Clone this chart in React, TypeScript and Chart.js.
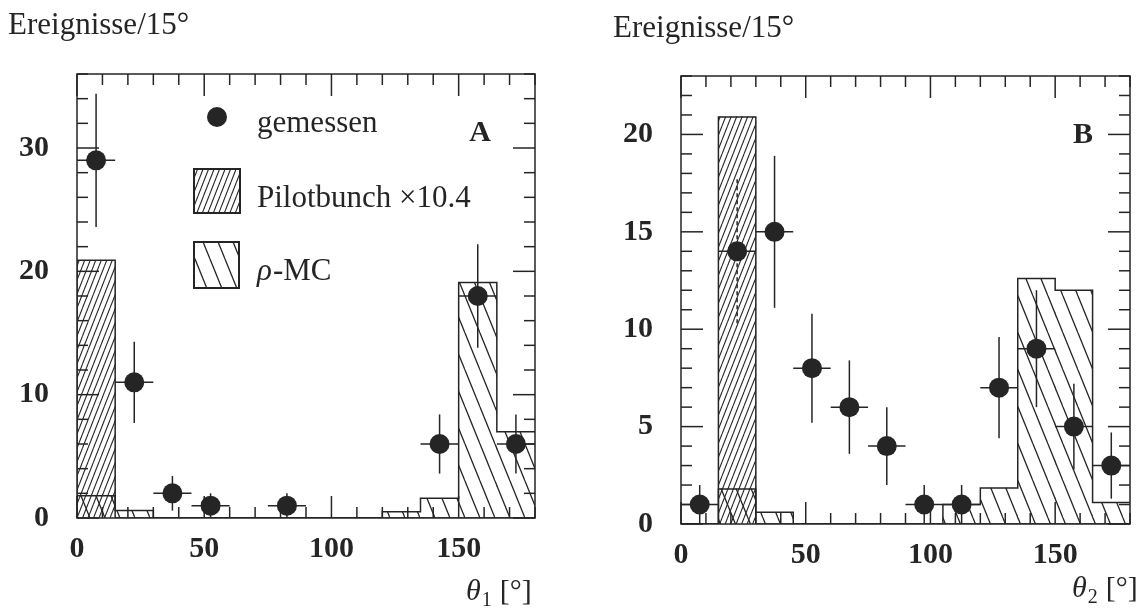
import React, { useEffect, useRef } from "react";
import { Chart, registerables } from "chart.js";

Chart.register(...registerables);

// ---------- data ----------
const binCenters = [7.5, 22.5, 37.5, 52.5, 67.5, 82.5, 97.5, 112.5, 127.5, 142.5, 157.5, 172.5];
const binHalfWidth = 7.5;
const xMaxDeg = 180;

// Panel A (theta_1)
const pilotA = [20.9, 0, 0, 0, 0, 0, 0, 0, 0, 0, 0, 0];
const rhoA = [1.8, 0.6, 0, 0, 0, 0, 0, 0, 0.5, 1.6, 19.1, 7.0];
const ptsAx = [7.5, 22.5, 37.5, 52.5, 82.5, 142.5, 157.5, 172.5];
const ptsAy = [29, 11, 2, 1, 1, 6, 18, 6];
const errAy = [5.4, 3.3, 1.4, 1, 1, 2.4, 4.2, 2.4];

// Panel B (theta_2)
const pilotB = [0, 20.9, 0, 0, 0, 0, 0, 0, 0, 0, 0, 0];
const rhoB = [0, 1.8, 0.6, 0, 0, 0, 0, 1.0, 1.85, 12.6, 12.0, 1.1];
const ptsBx = [7.5, 22.5, 37.5, 52.5, 67.5, 82.5, 97.5, 112.5, 127.5, 142.5, 157.5, 172.5];
const ptsBy = [1, 14, 15, 8, 6, 4, 1, 1, 7, 9, 5, 3];
const errBy = [1, 3.7, 3.9, 2.8, 2.4, 2.0, 1, 1, 2.6, 3.0, 2.2, 1.7];
const dashedErrBx = [22.5];

const xTickLabels = [0, 50, 100, 150];
const yTickLabelsA = [0, 10, 20, 30];
const yTickLabelsB = [0, 5, 10, 15, 20];

const INK = "#252525";
const SERIF = "'Liberation Serif', 'Times New Roman', serif";

function makeHatch(w: number, h: number, n: number, dir: 1 | -1, lw: number) {
  const c = document.createElement("canvas");
  c.width = w;
  c.height = h;
  const g = c.getContext("2d")!;
  g.strokeStyle = INK;
  g.lineWidth = lw;
  const dx = w / n;
  for (let k = -1; k <= n; k++) {
    const x0 = k * dx;
    g.beginPath();
    if (dir > 0) {
      g.moveTo(x0, h);
      g.lineTo(x0 + dx, 0);
    } else {
      g.moveTo(x0, 0);
      g.lineTo(x0 + dx, h);
    }
    g.stroke();
  }
  return g.createPattern(c, "repeat")!;
}

function stepOutline(vals: number[]) {
  const pts = [{ x: 0, y: 0 }];
  binCenters.forEach((c, i) => pts.push({ x: c + binHalfWidth, y: vals[i] }));
  return pts;
}

type PanelCfg = {
  pilot: number[];
  rho: number[];
  px: number[];
  py: number[];
  pe: number[];
  dashed: number[];
  ymax: number;
  yMinor: number;
  yMajor: number;
  yLabels: number[];
  padTop: number;
  padRight: number;
  yAxisW: number;
  xAxisH: number;
  title: { x: number; y: number };
  letter: string;
  letterPos: { x: number; y: number };
  axisSub: string;
  axisPos: { x: number; y: number };
  legend: boolean;
};

function makePanel(canvas: HTMLCanvasElement, cfg: PanelCfg) {
  const pilotPat = makeHatch(11, 14, 2, 1, 1.1);
  const rhoPat = makeHatch(15, 37, 1, -1, 1.3);

  const panelPlugin = {
    id: "panelDecor",
    beforeDatasetDraw(chart: any, args: any) {
      if (args.index !== 0) return;
      const { ctx, scales } = chart;
      const x = scales.x, y = scales.y;
      ctx.save();
      ctx.strokeStyle = INK;
      ctx.lineWidth = 1.5;
      cfg.px.forEach((xv, i) => {
        const yv = cfg.py[i];
        const e = cfg.pe[i];
        const cx = x.getPixelForValue(xv);
        const cy = y.getPixelForValue(yv);
        ctx.setLineDash(cfg.dashed.includes(xv) ? [4, 3] : []);
        ctx.beginPath();
        ctx.moveTo(cx, y.getPixelForValue(Math.min(yv + e, cfg.ymax)));
        ctx.lineTo(cx, y.getPixelForValue(Math.max(yv - e, 0)));
        ctx.stroke();
        ctx.setLineDash([]);
        ctx.beginPath();
        ctx.moveTo(x.getPixelForValue(xv - binHalfWidth), cy);
        ctx.lineTo(x.getPixelForValue(xv + binHalfWidth), cy);
        ctx.stroke();
      });
      ctx.restore();
    },
    afterDatasetsDraw(chart: any) {
      const { ctx, chartArea, scales } = chart;
      const { left, right, top, bottom } = chartArea;
      const x = scales.x, y = scales.y;
      ctx.save();
      ctx.strokeStyle = INK;
      ctx.lineWidth = 1.5;
      ctx.strokeRect(left, top, right - left, bottom - top);
      const line = (a: number, b: number, c: number, d: number) => {
        ctx.beginPath();
        ctx.moveTo(a, b);
        ctx.lineTo(c, d);
        ctx.stroke();
      };
      for (let v = 0; v <= xMaxDeg; v += 10) {
        const p = x.getPixelForValue(v);
        const L = v % 50 === 0 ? 22 : 11;
        line(p, bottom, p, bottom - L);
        line(p, top, p, top + L);
      }
      for (let v = 0; v <= cfg.ymax; v += cfg.yMinor) {
        const p = y.getPixelForValue(v);
        const L = v % cfg.yMajor === 0 ? 22 : 11;
        line(left, p, left + L, p);
        line(right, p, right - L, p);
      }
      ctx.restore();
    },
    afterDraw(chart: any) {
      const { ctx } = chart;
      ctx.save();
      ctx.fillStyle = INK;
      ctx.textBaseline = "alphabetic";
      ctx.textAlign = "left";
      ctx.font = `31px ${SERIF}`;
      ctx.fillText("Ereignisse/15°", cfg.title.x, cfg.title.y);
      ctx.font = `bold 30px ${SERIF}`;
      ctx.textAlign = "center";
      ctx.textBaseline = "middle";
      ctx.fillText(cfg.letter, cfg.letterPos.x, cfg.letterPos.y);
      ctx.textAlign = "left";
      ctx.textBaseline = "alphabetic";
      let ax = cfg.axisPos.x;
      ctx.font = `italic 30px ${SERIF}`;
      ctx.fillText("θ", ax, cfg.axisPos.y);
      ax += ctx.measureText("θ").width + 1;
      ctx.font = `20px ${SERIF}`;
      ctx.fillText(cfg.axisSub, ax, cfg.axisPos.y + 6);
      ax += ctx.measureText(cfg.axisSub).width + 8;
      ctx.font = `30px ${SERIF}`;
      ctx.fillText("[°]", ax, cfg.axisPos.y);

      if (cfg.legend) {
        ctx.beginPath();
        ctx.arc(217, 117, 10, 0, Math.PI * 2);
        ctx.fill();
        ctx.font = `31px ${SERIF}`;
        ctx.fillText("gemessen", 257, 132);
        ctx.lineWidth = 2;
        ctx.strokeStyle = INK;
        ctx.fillStyle = pilotPat;
        ctx.fillRect(194, 169, 46, 44);
        ctx.strokeRect(194, 169, 46, 44);
        ctx.fillStyle = rhoPat;
        ctx.fillRect(194, 242, 45, 46);
        ctx.strokeRect(194, 242, 45, 46);
        ctx.fillStyle = INK;
        ctx.font = `31px ${SERIF}`;
        ctx.fillText("Pilotbunch ×10.4", 257, 207);
        ctx.font = `italic 31px ${SERIF}`;
        ctx.fillText("ρ", 257, 280);
        const rw = ctx.measureText("ρ").width;
        ctx.font = `31px ${SERIF}`;
        ctx.fillText("-MC", 257 + rw + 1, 280);
      }
      ctx.restore();
    },
  };

  const tickFont = { family: SERIF, size: 30, weight: "bold" as const };

  const barCommon = {
    type: "bar",
    borderWidth: 0,
    barPercentage: 1,
    categoryPercentage: 1,
    grouped: false,
  };
  const stepCommon = {
    type: "line",
    stepped: "after",
    borderColor: INK,
    borderWidth: 1.5,
    pointRadius: 0,
    pointHoverRadius: 0,
    fill: false,
    tension: 0,
  };

  return new Chart(canvas, {
    type: "bar",
    data: {
      datasets: [
        {
          type: "scatter",
          label: "gemessen",
          data: cfg.px.map((xv, i) => ({ x: xv, y: cfg.py[i] })),
          pointRadius: 10,
          pointHoverRadius: 10,
          pointBackgroundColor: INK,
          pointBorderWidth: 0,
          order: 0,
        } as any,
        {
          ...stepCommon,
          label: "ρ-MC outline",
          data: stepOutline(cfg.rho),
          order: 1,
        } as any,
        {
          ...stepCommon,
          label: "Pilotbunch outline",
          data: stepOutline(cfg.pilot),
          order: 2,
        } as any,
        {
          ...barCommon,
          label: "ρ-MC",
          data: binCenters.map((xv, i) => ({ x: xv, y: cfg.rho[i] })),
          backgroundColor: rhoPat,
          order: 3,
        } as any,
        {
          ...barCommon,
          label: "Pilotbunch ×10.4",
          data: binCenters.map((xv, i) => ({ x: xv, y: cfg.pilot[i] })),
          backgroundColor: pilotPat,
          order: 4,
        } as any,
      ],
    },
    options: {
      responsive: false,
      animation: false,
      events: [],
      layout: { padding: { left: 0, top: cfg.padTop, right: cfg.padRight, bottom: 0 } },
      plugins: { legend: { display: false }, tooltip: { enabled: false }, title: { display: false } },
      scales: {
        x: {
          type: "linear",
          min: 0,
          max: xMaxDeg,
          offset: false,
          grid: { display: false, drawTicks: false },
          border: { display: false },
          ticks: {
            stepSize: 50,
            padding: 13,
            color: INK,
            font: tickFont,
            maxRotation: 0,
            autoSkip: false,
            callback: (v: any) => (xTickLabels.includes(Number(v)) ? String(v) : ""),
          },
          afterFit: (s: any) => {
            s.height = cfg.xAxisH;
          },
        },
        y: {
          type: "linear",
          min: 0,
          max: cfg.ymax,
          grid: { display: false, drawTicks: false },
          border: { display: false },
          ticks: {
            stepSize: cfg.yMajor,
            padding: 28,
            color: INK,
            font: tickFont,
            autoSkip: false,
            callback: (v: any) => (cfg.yLabels.includes(Number(v)) ? String(v) : ""),
          },
          afterFit: (s: any) => {
            s.width = cfg.yAxisW;
          },
        },
      },
    } as any,
    plugins: [panelPlugin as any],
  });
}

const cfgA: PanelCfg = {
  pilot: pilotA,
  rho: rhoA,
  px: ptsAx,
  py: ptsAy,
  pe: errAy,
  dashed: [],
  ymax: 36,
  yMinor: 2,
  yMajor: 10,
  yLabels: yTickLabelsA,
  padTop: 74,
  padRight: 33,
  yAxisW: 77,
  xAxisH: 96,
  title: { x: 8, y: 34 },
  letter: "A",
  letterPos: { x: 480, y: 133 },
  axisSub: "1",
  axisPos: { x: 466, y: 600 },
  legend: true,
};

const cfgB: PanelCfg = {
  pilot: pilotB,
  rho: rhoB,
  px: ptsBx,
  py: ptsBy,
  pe: errBy,
  dashed: dashedErrBx,
  ymax: 23,
  yMinor: 1,
  yMajor: 5,
  yLabels: yTickLabelsB,
  padTop: 76,
  padRight: 4,
  yAxisW: 113,
  xAxisH: 90,
  title: { x: 45, y: 37 },
  letter: "B",
  letterPos: { x: 515, y: 135 },
  axisSub: "2",
  axisPos: { x: 504, y: 597 },
  legend: false,
};

export default function App() {
  const refA = useRef<HTMLCanvasElement>(null);
  const refB = useRef<HTMLCanvasElement>(null);
  useEffect(() => {
    const a = makePanel(refA.current!, cfgA);
    const b = makePanel(refB.current!, cfgB);
    return () => {
      a.destroy();
      b.destroy();
    };
  }, []);
  return (
    <div
      style={{
        position: "fixed",
        left: 0,
        top: 0,
        width: 1137,
        height: 614,
        overflow: "hidden",
        background: "#fff",
      }}
    >
      <canvas ref={refA} width={568} height={614} style={{ position: "absolute", left: 0, top: 0 }} />
      <canvas ref={refB} width={575} height={614} style={{ position: "absolute", left: 568, top: 0 }} />
    </div>
  );
}
